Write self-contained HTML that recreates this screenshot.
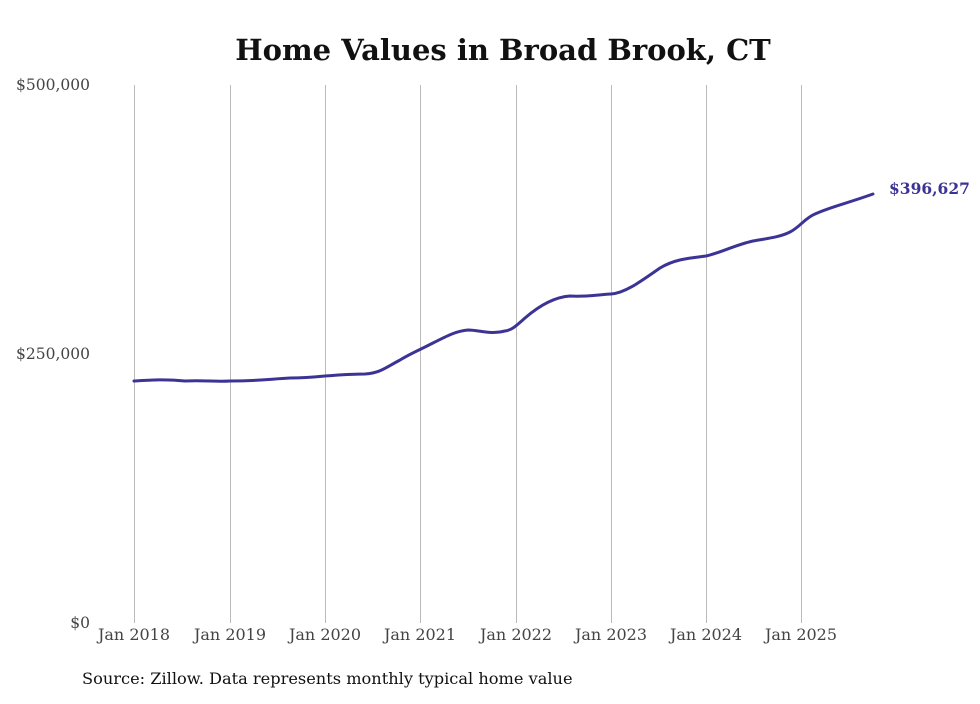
<!DOCTYPE html>
<html><head><meta charset="utf-8"><style>
body{margin:0;background:#fff;width:980px;height:699px;overflow:hidden}
</style></head><body>
<svg width="980" height="699" xmlns="http://www.w3.org/2000/svg">
<rect width="980" height="699" fill="#fff"/>
<text x="503" y="60" text-anchor="middle" font-family="DejaVu Serif, serif" font-weight="bold" font-size="29" fill="#111">Home Values in Broad Brook, CT</text>
<g stroke="#bbb" stroke-width="1">
<line x1="134.5" y1="85" x2="134.5" y2="623"/>
<line x1="230.5" y1="85" x2="230.5" y2="623"/>
<line x1="325.5" y1="85" x2="325.5" y2="623"/>
<line x1="420.5" y1="85" x2="420.5" y2="623"/>
<line x1="516.5" y1="85" x2="516.5" y2="623"/>
<line x1="611.5" y1="85" x2="611.5" y2="623"/>
<line x1="706.5" y1="85" x2="706.5" y2="623"/>
<line x1="801.5" y1="85" x2="801.5" y2="623"/>
</g>
<g font-family="DejaVu Serif, serif" font-size="15.5" fill="#444">
<text x="90" y="90" text-anchor="end">$500,000</text>
<text x="90" y="359" text-anchor="end">$250,000</text>
<text x="90" y="628" text-anchor="end">$0</text>
<g text-anchor="middle" font-size="16">
<text x="134" y="640">Jan 2018</text>
<text x="230" y="640">Jan 2019</text>
<text x="325" y="640">Jan 2020</text>
<text x="420" y="640">Jan 2021</text>
<text x="516" y="640">Jan 2022</text>
<text x="611" y="640">Jan 2023</text>
<text x="706" y="640">Jan 2024</text>
<text x="801" y="640">Jan 2025</text>
</g></g>
<path d="M134,381 C150,380 165,379 185,381 C205,380 215,382 230,381 C260,381 270,379 290,378 C305,378 315,377 325,376 C340,375 350,374 365,374 C380,373 385,368 400,360 C410,354 415,352 425,347 C445,337 455,331 468,330 C480,330 490,335 505,331 C512,330 516,326 525,318 C540,305 555,297 570,296 C585,297 595,295 611,294 C625,293 640,282 660,268 C675,259 690,258 706,256 C720,253 735,245 753,241 C770,238 780,237 790,232 C800,227 805,218 815,214 C830,207 845,204 873,194" fill="none" stroke="#3b3495" stroke-width="3" stroke-linecap="round"/>
<text x="889" y="194" font-family="DejaVu Serif, serif" font-weight="bold" font-size="15.5" fill="#3b3495">$396,627</text>
<text x="82" y="684" font-family="DejaVu Serif, serif" font-size="16.2" fill="#111">Source: Zillow. Data represents monthly typical home value</text>
</svg>
</body></html>
